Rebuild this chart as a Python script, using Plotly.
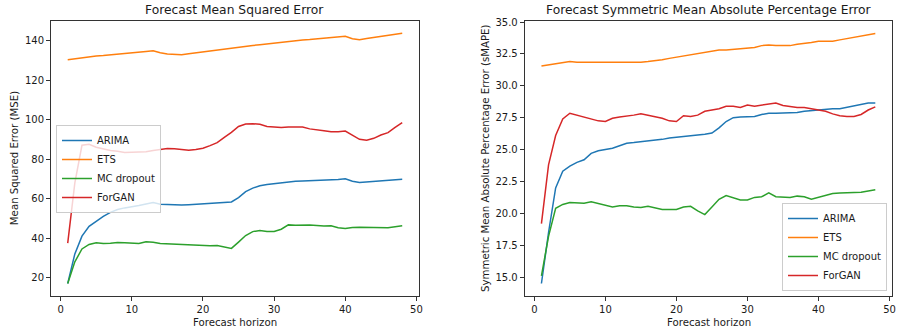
import plotly.graph_objects as go

horizon = list(range(1, 49))

mse_arima = [17, 32, 41, 46, 48.5, 51, 53, 54.5, 55.3, 55.8, 56.5, 57.3, 58, 57.2, 57, 56.8,
             56.7, 56.9, 57.1, 57.3, 57.5, 57.8, 58, 58.3, 60.5, 63.5, 65.3, 66.5, 67.1, 67.6,
             68.1, 68.5, 68.8, 68.9, 69, 69.1, 69.5, 69.5, 69.7, 70, 68.8, 68.2, 68.5, 68.6,
             68.9, 69.2, 69.5, 69.8]
mse_ets = [130.3, 130.8, 131.4, 131.9, 132.2, 132.4, 132.7, 133, 133.2, 133.6, 134, 134.4,
           134.8, 133.8, 133.2, 132.9, 132.8, 133.3, 133.8, 134.3, 134.8, 135.3, 135.8, 136.3,
           136.8, 137.2, 137.5, 137.9, 138.3, 138.7, 139.2, 139.7, 140.1, 140.3, 140.5, 140.8,
           141.3, 141.5, 141.8, 142.2, 140.9, 140.4, 141, 141.5, 142.1, 142.7, 143.2, 143.7]
mse_mc = [17, 28, 34.5, 36.8, 37.6, 37.3, 37.4, 37.8, 37.7, 37.6, 37.3, 38.1, 37.9, 37.3,
          37.1, 37, 36.9, 36.8, 36.6, 36.2, 36.1, 36.2, 35.5, 34.8, 38, 41.3, 43.3, 43.9, 43.3,
          43.4, 44.5, 46.7, 46.5, 46.6, 46.6, 46.4, 46.1, 46.3, 45.2, 44.9, 45.4, 45.5, 45.4,
          45.3, 45.1, 45.3, 45.8, 46.2]
mse_forgan = [37.5, 68, 87, 87.5, 86, 85, 84.3, 84, 83.4, 83.5, 83.6, 83.7, 84.4, 85, 85.4,
              85.2, 84.7, 84.5, 84.8, 85.5, 86.8, 88.3, 91, 93.5, 96.5, 97.8, 97.9, 97.6, 96.5,
              96.4, 96, 96.3, 96.2, 96.2, 95.3, 95, 94.4, 93.8, 93.8, 94.2, 92, 90, 89.6, 90.5,
              92.2, 93.4, 96, 98.5]

smape_arima = [14.5, 18.5, 22, 23.3, 23.7, 24, 24.2, 24.7, 24.9, 25, 25.1, 25.3, 25.5, 25.55,
               25.6, 25.7, 25.75, 25.8, 25.9, 25.95, 26, 26.1, 26.15, 26.2, 26.3, 26.7, 27.2,
               27.5, 27.55, 27.55, 27.6, 27.75, 27.85, 27.85, 27.85, 27.85, 27.9, 28, 28.05,
               28.15, 28.2, 28.2, 28.2, 28.3, 28.4, 28.5, 28.65, 28.65]
smape_ets = [31.55, 31.65, 31.75, 31.85, 31.9, 31.85, 31.85, 31.85, 31.8, 31.8, 31.8, 31.8,
             31.85, 31.85, 31.85, 31.9, 31.95, 32.05, 32.15, 32.25, 32.35, 32.45, 32.55, 32.6,
             32.7, 32.8, 32.8, 32.85, 32.9, 32.95, 33.0, 33.15, 33.2, 33.15, 33.15, 33.15,
             33.25, 33.3, 33.4, 33.5, 33.5, 33.5, 33.6, 33.7, 33.8, 33.95, 34.05, 34.1]
smape_mc = [15.1, 18.2, 20.4, 20.7, 20.85, 20.8, 20.8, 20.9, 20.75, 20.6, 20.5, 20.6, 20.6,
            20.5, 20.45, 20.55, 20.45, 20.3, 20.3, 20.3, 20.5, 20.55, 20.2, 19.9, 20.5, 21.1,
            21.4, 21.25, 21.05, 21.05, 21.25, 21.3, 21.6, 21.3, 21.3, 21.25, 21.35, 21.3, 21.1,
            21.25, 21.45, 21.55, 21.6, 21.6, 21.6, 21.65, 21.75, 21.85]
smape_forgan = [19.2, 23.8, 26.1, 27.4, 27.85, 27.7, 27.5, 27.35, 27.25, 27.2, 27.45, 27.55,
                27.6, 27.7, 27.8, 27.7, 27.55, 27.45, 27.25, 27.2, 27.65, 27.6, 27.7, 28.0,
                28.1, 28.2, 28.4, 28.4, 28.3, 28.5, 28.4, 28.5, 28.6, 28.65, 28.45, 28.35, 28.3,
                28.3, 28.2, 28.15, 28.0, 27.8, 27.65, 27.6, 27.6, 27.75, 28.1, 28.35]

names = ["ARIMA", "ETS", "MC dropout", "ForGAN"]
colors = ["#1f77b4", "#ff7f0e", "#2ca02c", "#d62728"]

FONT = "DejaVu Sans"
TXT = "#1a1a1a"
fig = go.Figure()

for name, col, ys in zip(names, colors, [mse_arima, mse_ets, mse_mc, mse_forgan]):
    fig.add_trace(go.Scatter(x=horizon, y=ys, mode="lines", name=name,
                             line=dict(color=col, width=1.5),
                             xaxis="x", yaxis="y", legend="legend"))
for name, col, ys in zip(names, colors, [smape_arima, smape_ets, smape_mc, smape_forgan]):
    fig.add_trace(go.Scatter(x=horizon, y=ys, mode="lines", name=name,
                             line=dict(color=col, width=1.5),
                             xaxis="x2", yaxis="y2", legend="legend2"))

axis_common = dict(showgrid=False, zeroline=False, showline=True, mirror=True,
                   linecolor="#333333", linewidth=1, ticks="outside", ticklen=4,
                   tickwidth=1, tickcolor="#333333",
                   tickfont=dict(family=FONT, size=10, color=TXT))

W, H = 902, 332
ml, mr, mt, mb = 51, 6, 21, 36
pw = W - ml - mr
ph = H - mt - mb

def px_x(p):
    return (p - ml) / pw

def px_y(p):
    return (H - mb - p) / ph

fig.update_layout(
    width=W, height=H,
    margin=dict(l=ml, r=mr, t=mt, b=mb),
    plot_bgcolor="white", paper_bgcolor="white",
    font=dict(family=FONT, size=10, color=TXT),
    xaxis=dict(domain=[0, px_x(420.7)], range=[-1.35, 50.35], dtick=10, tick0=0, **axis_common),
    yaxis=dict(range=[10.7, 149.9], dtick=20, tick0=0, **axis_common),
    xaxis2=dict(domain=[px_x(527), 1], range=[-1.35, 50.35], dtick=10, tick0=0,
                anchor="y2", **axis_common),
    yaxis2=dict(range=[13.52, 35.08], dtick=2.5, tick0=0, tickformat=".1f",
                anchor="x2", **axis_common),
    legend=dict(x=px_x(56), y=px_y(125), xanchor="left", yanchor="top", itemwidth=30,
                bgcolor="rgba(255,255,255,0.8)", bordercolor="#cccccc", borderwidth=1,
                font=dict(family=FONT, size=10, color=TXT), tracegroupgap=0),
    legend2=dict(x=px_x(891), y=px_y(291), xanchor="right", yanchor="bottom", itemwidth=30,
                 bgcolor="rgba(255,255,255,0.8)", bordercolor="#cccccc", borderwidth=1,
                 font=dict(family=FONT, size=10, color=TXT), tracegroupgap=0),
    showlegend=True,
)

ann = [
    dict(text="Forecast Mean Squared Error", x=px_x((50.7 + 420.7) / 2), y=px_y(10),
         font=dict(size=12.3)),
    dict(text="Forecast Symmetric Mean Absolute Percentage Error", x=px_x((527 + 896.3) / 2),
         y=px_y(10), font=dict(size=12.3)),
    dict(text="Forecast horizon", x=px_x((50.7 + 420.7) / 2), y=px_y(322), font=dict(size=10.2)),
    dict(text="Forecast horizon", x=px_x((527 + 896.3) / 2), y=px_y(322), font=dict(size=10.2)),
    dict(text="Mean Squared Error (MSE)", x=px_x(14), y=px_y(158), textangle=-90,
         font=dict(size=10.2)),
    dict(text="Symmetric Mean Absolute Percentage Error (sMAPE)", x=px_x(487), y=px_y(158),
         textangle=-90, font=dict(size=10.2)),
]
for a in ann:
    fig.add_annotation(xref="paper", yref="paper", showarrow=False,
                       xanchor="center", yanchor="middle",
                       x=a["x"], y=a["y"], text=a["text"], textangle=a.get("textangle", 0),
                       font=dict(family=FONT, color=TXT, size=a["font"]["size"]))

fig.write_html("out.html", config={"displayModeBar": False},
               post_script="document.body.style.margin='0';document.body.style.padding='0';")
